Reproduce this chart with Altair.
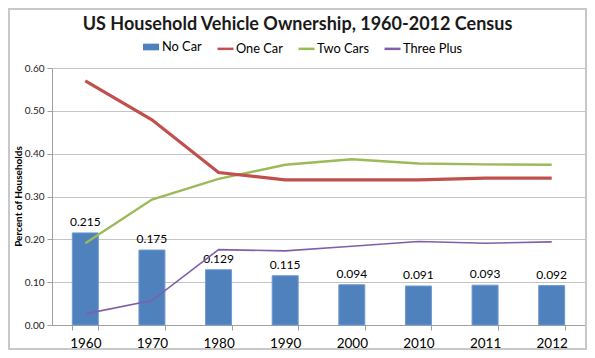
import altair as alt
import pandas as pd

years = ["1960", "1970", "1980", "1990", "2000", "2010", "2011", "2012"]
no_car = [0.215, 0.175, 0.129, 0.115, 0.094, 0.091, 0.093, 0.092]
one_car = [0.570, 0.479, 0.356, 0.339, 0.339, 0.339, 0.343, 0.343]
two_cars = [0.191, 0.293, 0.341, 0.374, 0.387, 0.377, 0.375, 0.374]
three_plus = [0.026, 0.057, 0.176, 0.173, 0.184, 0.195, 0.191, 0.194]

line_names = ["One Car", "Two Cars", "Three Plus"]
line_colors = ["#c0504d", "#9bbb59", "#7f60a8"]
bar_color = "#4f81bd"

FONT = "Lato"

bars_df = pd.DataFrame({"year": years, "value": no_car, "series": "No Car"})
lines_df = pd.concat([
    pd.DataFrame({"year": years, "value": three_plus, "series": "Three Plus"}),
    pd.DataFrame({"year": years, "value": two_cars, "series": "Two Cars"}),
    pd.DataFrame({"year": years, "value": one_car, "series": "One Car"}),
])
frame_df = pd.DataFrame({"k": [0]})

x_enc = alt.X(
    "year:N", sort=years, title=None,
    scale=alt.Scale(paddingInner=0.61, paddingOuter=0.305),
    axis=alt.Axis(labelAngle=0, labelFont=FONT, labelFontSize=13.5, labelColor="#000000",
                  labelPadding=6, tickSize=5, tickColor="#a0a0a0", domainColor="#a0a0a0",
                  tickBand="extent", grid=False),
)
y_enc = alt.Y(
    "value:Q", title="Percent of Households",
    scale=alt.Scale(domain=[0, 0.6], nice=False),
    axis=alt.Axis(values=[0, 0.1, 0.2, 0.3, 0.4, 0.5, 0.6], format=".2f",
                  labelFont=FONT, labelFontSize=10, labelColor="#222222", labelPadding=3,
                  tickSize=5, tickColor="#a0a0a0", domainColor="#a0a0a0",
                  gridColor="#c4c4c4", gridWidth=1.2,
                  titleFont=FONT, titleFontSize=10, titleFontWeight="bold", titleColor="#000000",
                  titleX=-34, titleY=128, titleAngle=-90, titleAlign="center", titleBaseline="middle"),
)

legend_common = dict(title=None, orient="none", direction="horizontal",
                     labelFont=FONT, labelFontSize=12.8, labelColor="#000000",
                     columnPadding=10, symbolSize=256)

fill_enc = alt.Fill(
    "series:N", scale=alt.Scale(domain=["No Car"], range=[bar_color]),
    legend=alt.Legend(legendX=91, legendY=-29, symbolType="M-1,-0.42H1V0.42H-1Z",
                      symbolStrokeWidth=0, labelOffset=3, **legend_common),
)
stroke_enc = alt.Stroke(
    "series:N", scale=alt.Scale(domain=line_names, range=line_colors),
    legend=alt.Legend(legendX=164, legendY=-29, symbolType="stroke",
                      symbolStrokeWidth=2.5, labelOffset=1, **legend_common),
)

bars = alt.Chart(bars_df).mark_bar(stroke="#6f9ad0", strokeWidth=1).encode(
    x=x_enc, y=y_enc, fill=fill_enc,
)
labels = alt.Chart(bars_df).mark_text(
    baseline="bottom", dy=-4, font=FONT, fontSize=12, color="#000000"
).encode(x=alt.X("year:N", sort=years), y="value:Q", text=alt.Text("value:Q", format=".3f"))

lines = alt.Chart(lines_df).mark_line().encode(
    x=alt.X("year:N", sort=years), y="value:Q", stroke=stroke_enc,
    strokeWidth=alt.StrokeWidth("series:N",
                                scale=alt.Scale(domain=line_names, range=[3.2, 1.6, 1.6]),
                                legend=None),
    detail="series:N",
)

frame = alt.Chart(frame_df).mark_rect(fill="transparent", stroke="#c8c8c8", strokeWidth=2).encode(
    x=alt.value(-43), x2=alt.value(534), y=alt.value(-59), y2=alt.value(281),
)

chart = alt.layer(frame, bars, labels, lines).resolve_legend(fill="independent", stroke="independent").properties(
    width=533, height=257,
    title=alt.Title("US Household Vehicle Ownership, 1960-2012 Census", anchor="middle",
                    dx=-21, offset=-26, font=FONT, fontSize=18, fontWeight="bold", color="#1a1a1a"),
    autosize=alt.AutoSizeParams(type="none"),
    padding={"left": 44, "top": 60, "right": 2, "bottom": 25},
).configure_view(stroke=None).configure(background="white")

chart.save("out.html", embed_options={"renderer": "svg", "actions": False})
